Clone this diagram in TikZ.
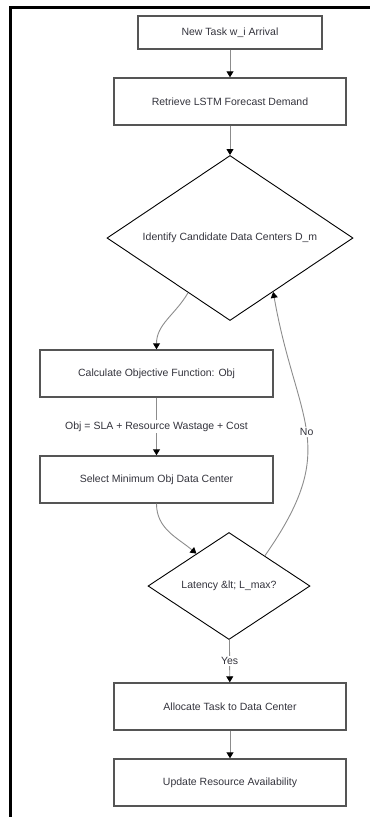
\documentclass[tikz,border=0pt]{standalone}
\usepackage{fontspec}
\setmainfont{Liberation Sans}
\usepackage{tikz}
\usetikzlibrary{arrows.meta,backgrounds,calc,shapes.geometric}
\definecolor{boxline}{RGB}{85,85,85}
\definecolor{flowline}{RGB}{140,140,140}
\definecolor{txt}{RGB}{51,51,60}

\begin{document}
\begin{tikzpicture}[x=1pt,y=-1pt,
  stepbox/.style={draw=boxline,line width=1.4pt,minimum width=232pt,minimum height=47pt,inner sep=0pt,text=txt,font=\fontsize{10.5}{12}\selectfont},
  decision/.style={diamond,draw=black,line width=0.9pt,aspect=1.5,inner sep=0pt,text=txt,font=\fontsize{10.5}{12}\selectfont},
  flow/.style={draw=flowline,line width=0.9pt,-{Triangle[length=6pt,width=7pt,black]}},
  lbl/.style={fill=white,inner sep=1.5pt,text=txt,font=\fontsize{10.5}{12}\selectfont}]
\useasboundingbox (0,0) rectangle (370,817);
\draw[line width=3pt] (10,817) -- (10,7) -- (370,7);
\node[stepbox,minimum width=184pt,minimum height=33pt] (arrival) at (230,32.5) {New Task w\_i Arrival};
\node[stepbox] (forecast) at (230,101.5) {Retrieve LSTM Forecast Demand};
\node[decision,minimum width=246pt,minimum height=165pt] (candidates) at (230,238) {Identify Candidate Data Centers D\_m};
\node[stepbox,minimum width=233pt] (objective) at (156.5,373.5) {Calculate Objective Function: Obj};
\node[stepbox,minimum width=233pt] (select) at (156.5,479.5) {Select Minimum Obj Data Center};
\node[decision,minimum width=162pt,minimum height=107pt] (latency) at (229,586) {Latency \&lt; L\_max?};
\node[stepbox] (allocate) at (230,706.5) {Allocate Task to Data Center};
\node[stepbox] (update) at (230,782.5) {Update Resource Availability};
\draw[flow] (arrival) -- (forecast);
\draw[flow] (forecast) -- (candidates);
\draw[flow] ($(candidates.west)!.66!(candidates.south)$) to[out=-120,in=90] (objective.north);
\draw[flow] (objective) -- node[lbl]{Obj = SLA + Resource Wastage + Cost} (select);
\draw[flow] (select.south) to[out=-90,in=140] ($(latency.west)!.6!(latency.north)$);
\draw[flow] ($(latency.north)!.44!(latency.east)$) to[out=55,in=-80,looseness=1.3] node[lbl,pos=.5]{No} ($(candidates.south)!.35!(candidates.east)$);
\draw[flow] (latency) -- node[lbl]{Yes} (allocate);
\draw[flow] (allocate) -- (update);
\end{tikzpicture}
\end{document}
